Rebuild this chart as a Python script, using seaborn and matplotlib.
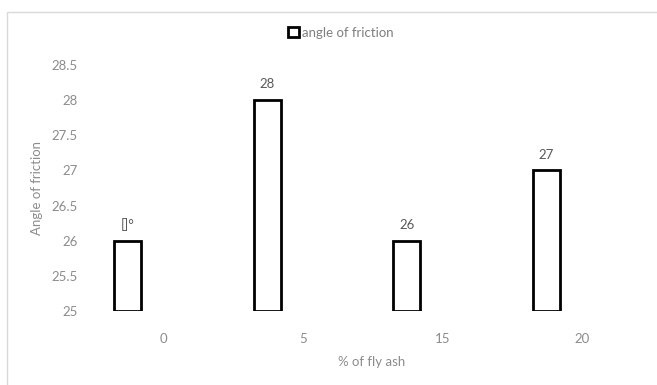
import matplotlib
matplotlib.use("Agg")
import matplotlib.pyplot as plt
from matplotlib.patches import Rectangle
import seaborn as sns
import numpy as np

# Data
fly_ash = ["0", "5", "15", "20"]
friction_angle = [26, 28, 26, 27]
value_labels = ["[]°", "28", "26", "27"]
series_name = "angle of friction"
y_ticks = [25, 25.5, 26, 26.5, 27, 27.5, 28, 28.5]

BASE = 25.0
BAR_WIDTH = 0.194
BAR_SHIFT = -0.258
TICK_GREY = "#8c8c8c"
LABEL_GREY = "#595959"
FS = 9.5

sns.set_theme(style="white")
plt.rcParams["font.family"] = ["Lato", "DejaVu Sans"]

fig = plt.figure(figsize=(6.57, 3.85), dpi=100)
ax = fig.add_axes([94 / 657, 74 / 385, 558 / 657, 246 / 385])

positions = np.arange(len(fly_ash)) + BAR_SHIFT
sns.barplot(
    x=positions,
    y=[v - BASE for v in friction_angle],
    bottom=BASE,
    native_scale=True,
    width=BAR_WIDTH,
    color="white",
    edgecolor="black",
    linewidth=2.0,
    label=series_name,
    ax=ax,
)
if ax.get_legend() is not None:
    ax.get_legend().remove()

ax.set_xlim(-0.5, len(fly_ash) - 0.5)
ax.set_ylim(BASE, 28.5)
ax.set_xticks(np.arange(len(fly_ash)))
ax.set_xticklabels(fly_ash)
ax.set_yticks(y_ticks)
ax.set_yticklabels([f"{t:g}" for t in y_ticks])
ax.tick_params(axis="x", length=0, pad=16, labelsize=FS, labelcolor=TICK_GREY)
ax.tick_params(axis="y", length=0, pad=12, labelsize=FS, labelcolor=TICK_GREY)
for s in ax.spines.values():
    s.set_visible(False)
ax.grid(False)

# Value labels above bars
for x, v, txt in zip(positions, friction_angle, value_labels):
    ax.annotate(txt, (x, v), xytext=(0, 7), textcoords="offset points",
                ha="center", va="bottom", fontsize=FS, color=LABEL_GREY)

ax.set_xlabel("% of fly ash", fontsize=FS, color=TICK_GREY)
ax.set_ylabel("Angle of friction", fontsize=FS, color=TICK_GREY)
ax.xaxis.set_label_coords((372 - 94) / 558, -(356 - 311) / 246)
ax.yaxis.set_label_coords((43 - 94) / 558, 0.5)

handles, labels = ax.get_legend_handles_labels()
fig.legend(handles, labels, loc="center", bbox_to_anchor=(341 / 657, 1 - 33 / 385),
           frameon=False, fontsize=FS, labelcolor="#7f7f7f",
           handlelength=0.8, handleheight=0.8, handletextpad=0.25)

# Chart area outline
fig.add_artist(Rectangle((7 / 657, -0.05), 1.0, 1.05 - 12 / 385,
                         transform=fig.transFigure, fill=False,
                         edgecolor="#d9d9d9", linewidth=1.0))

fig.savefig("out.png", dpi=100, facecolor="white")
